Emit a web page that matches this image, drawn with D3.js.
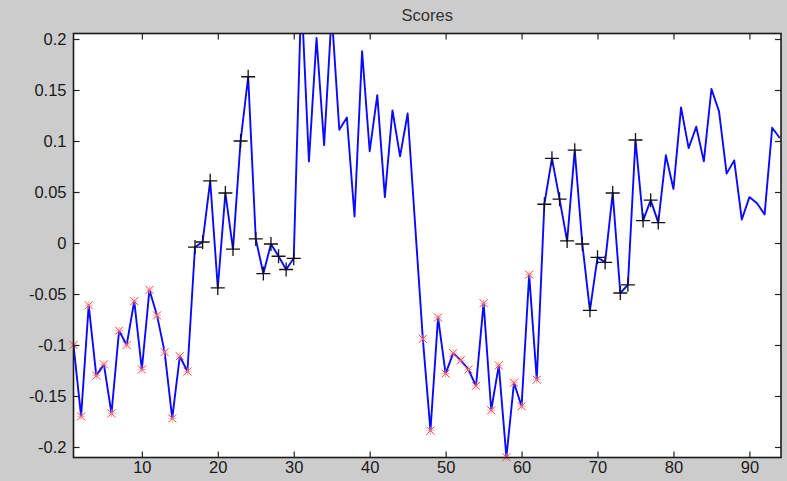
<!DOCTYPE html>
<html>
<head>
<meta charset="utf-8">
<script src="https://cdn.jsdelivr.net/npm/d3@7"></script>
<style>
  html, body { margin: 0; padding: 0; background: #cccccc; }
  svg { display: block; }
  text { font-family: "Liberation Sans", Arial, sans-serif; }
</style>
</head>
<body>
<svg id="chart" width="787" height="481"></svg>
<script>
// Score values for samples 1..94
const scores = [
  -0.100, -0.170, -0.061, -0.130, -0.119, -0.167, -0.086, -0.100, -0.057, -0.124,
  -0.046, -0.071, -0.107, -0.172, -0.111, -0.126, -0.004,  0.001,  0.061, -0.044,
   0.049, -0.006,  0.100,  0.163,  0.004, -0.030, -0.001, -0.013, -0.026, -0.015,
   0.245,  0.080,  0.201,  0.096,  0.225,  0.111,  0.123,  0.026,  0.188,  0.090,
   0.145,  0.045,  0.130,  0.085,  0.127,  0.016, -0.094, -0.184, -0.073, -0.128,
  -0.108, -0.115, -0.124, -0.140, -0.059, -0.164, -0.120, -0.210, -0.137, -0.160,
  -0.031, -0.134,  0.038,  0.083,  0.043,  0.002,  0.091, -0.001, -0.066, -0.014,
  -0.019,  0.049, -0.049, -0.041,  0.101,  0.022,  0.042,  0.020,  0.086,  0.053,
   0.133,  0.093,  0.114,  0.080,  0.151,  0.129,  0.068,  0.081,  0.023,  0.045,
   0.039,  0.028,  0.113,  0.103
];
const samples = scores.map((_, i) => i + 1);

// Sample groups: red stars and black crosses
const starGroup  = [1,2,3,4,5,6,7,8,9,10,11,12,13,14,15,16,
                    47,48,49,50,51,52,53,54,55,56,57,58,59,60,61,62];
const crossGroup = [17,18,19,20,21,22,23,24,25,26,27,28,29,30,
                    63,64,65,66,67,68,69,70,71,72,73,74,75,76,77,78];

const xTicks = [10, 20, 30, 40, 50, 60, 70, 80, 90];
const yTicks = [0.2, 0.15, 0.1, 0.05, 0, -0.05, -0.1, -0.15, -0.2];
const yTickLabels = ["0.2", "0.15", "0.1", "0.05", "0", "-0.05", "-0.1", "-0.15", "-0.2"];
const titleText = "Scores";

const svg = d3.select("#chart");
const box = { left: 73.5, right: 781, top: 33.5, bottom: 457.5 };

const x = d3.scaleLinear().domain([1, 94.16]).range([box.left, box.right]);
const y = d3.scaleLinear().domain([-0.2103, 0.2054]).range([box.bottom, box.top]);

// figure background
svg.append("rect").attr("width", 787).attr("height", 481).attr("fill", "#cccccc");

// axes area
svg.append("rect")
  .attr("x", box.left).attr("y", box.top)
  .attr("width", box.right - box.left).attr("height", box.bottom - box.top)
  .attr("fill", "#ffffff");

svg.append("clipPath").attr("id", "plotClip")
  .append("rect")
  .attr("x", box.left).attr("y", box.top)
  .attr("width", box.right - box.left).attr("height", box.bottom - box.top);

// score line
const line = d3.line().x((d, i) => x(samples[i])).y(d => y(d));
svg.append("path")
  .datum(scores)
  .attr("clip-path", "url(#plotClip)")
  .attr("fill", "none")
  .attr("stroke", "#0a0aff")
  .attr("stroke-width", 1.9)
  .attr("stroke-linejoin", "round")
  .attr("d", line);

// red star markers
const starLayer = svg.append("g").attr("stroke", "#ff3b3b").attr("stroke-width", 1).attr("fill", "none");
starGroup.forEach(s => {
  const cx = x(s), cy = y(scores[s - 1]), r = 4;
  const g = starLayer.append("g").attr("transform", `translate(${cx},${cy})`);
  g.append("path").attr("d", `M${-r},${-r}L${r},${r}M${-r},${r}L${r},${-r}`);
  g.append("path").attr("d", `M${-r},0L${r},0M0,${-r}L0,${r}`).attr("stroke", "#ff8a8a").attr("stroke-width", 0.7);
});

// black cross markers
const crossLayer = svg.append("g").attr("stroke", "#111111").attr("stroke-width", 1.3).attr("fill", "none");
crossGroup.forEach(s => {
  const cx = x(s), cy = y(scores[s - 1]), r = 7;
  crossLayer.append("path")
    .attr("transform", `translate(${cx},${cy})`)
    .attr("d", `M${-r},0L${r},0M0,${-r}L0,${r}`);
});

// axes with inward ticks on all four sides
const tickLen = 6;
const fmtY = d => yTickLabels[yTicks.indexOf(d)];

const axLeft = svg.append("g").attr("transform", `translate(${box.left},0)`)
  .call(d3.axisLeft(y).tickValues(yTicks).tickFormat(fmtY).tickSizeInner(-tickLen).tickSizeOuter(0).tickPadding(7));
const axBottom = svg.append("g").attr("transform", `translate(0,${box.bottom})`)
  .call(d3.axisBottom(x).tickValues(xTicks).tickFormat(d3.format("d")).tickSizeInner(-tickLen).tickSizeOuter(0).tickPadding(4));
const axRight = svg.append("g").attr("transform", `translate(${box.right},0)`)
  .call(d3.axisRight(y).tickValues(yTicks).tickFormat("").tickSizeInner(-tickLen).tickSizeOuter(0));
const axTop = svg.append("g").attr("transform", `translate(0,${box.top})`)
  .call(d3.axisTop(x).tickValues(xTicks).tickFormat("").tickSizeInner(-tickLen).tickSizeOuter(0));

[axLeft, axBottom, axRight, axTop].forEach(g => {
  g.select(".domain").remove();
  g.selectAll(".tick line").attr("stroke", "#222222").attr("stroke-width", 1.2);
  g.selectAll(".tick text").attr("fill", "#1a1a1a").attr("font-size", 16.5);
});

// axes box
svg.append("rect")
  .attr("x", box.left).attr("y", box.top)
  .attr("width", box.right - box.left).attr("height", box.bottom - box.top)
  .attr("fill", "none").attr("stroke", "#1a1a1a").attr("stroke-width", 1.6);

// title
svg.append("text")
  .attr("x", (box.left + box.right) / 2).attr("y", 21)
  .attr("text-anchor", "middle")
  .attr("font-size", 16.5)
  .attr("fill", "#333333")
  .text(titleText);
</script>
</body>
</html>
